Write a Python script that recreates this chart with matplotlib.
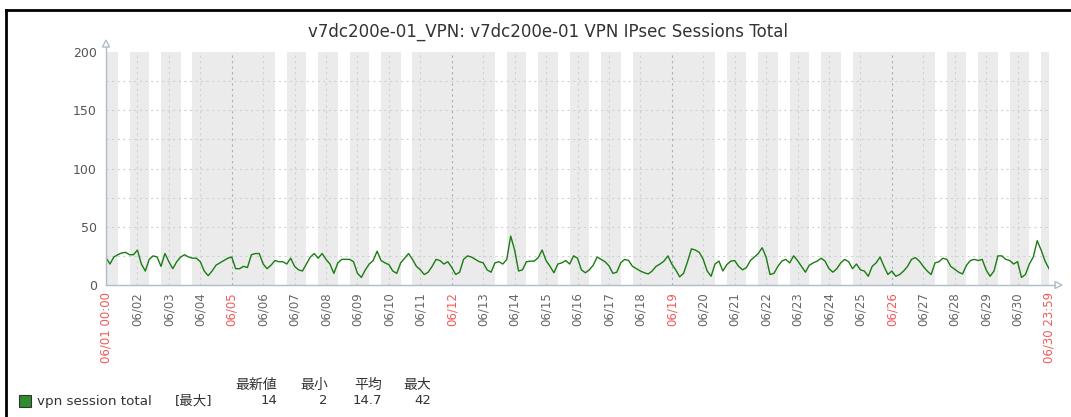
import numpy as np
import matplotlib
matplotlib.use('Agg')
import matplotlib.pyplot as plt
from matplotlib.lines import Line2D
from matplotlib.patches import Polygon, Rectangle

plt.rcParams['font.family'] = ['DejaVu Sans', 'Noto Sans CJK JP']

# --- data (3-hour samples, 06/01 00:00 .. 06/30 24:00) ---
title = 'v7dc200e-01_VPN: v7dc200e-01 VPN IPsec Sessions Total'
series_name = 'vpn session total'
step_hours = 3
sessions = [
    23.5, 18, 24, 26, 27.5, 28, 26, 26,      # 06/01
    30, 18, 12, 22, 25, 24, 16, 27,          # 06/02
    20, 14, 20, 24, 26, 24, 23, 23,          # 06/03
    20, 12, 8, 12, 17, 19, 21, 23,           # 06/04
    24, 14, 14, 16, 15, 26, 27, 27,          # 06/05
    18, 14, 17, 21, 20, 20, 18, 23,          # 06/06
    16, 13, 12, 18, 24, 27, 23, 27,          # 06/07
    22, 18, 10, 19, 22, 22, 22, 20,          # 06/08
    10, 6.5, 13, 18, 21, 29, 21, 19,         # 06/09
    17.5, 12, 10, 19, 23, 27, 22, 16,        # 06/10
    13, 9, 11, 16, 22, 21, 18, 20,           # 06/11
    15, 9, 11, 22, 25, 24, 22, 20,           # 06/12
    19, 13, 11, 19, 20, 18, 22, 42,          # 06/13
    30, 12, 13, 20, 20.5, 20.5, 23.5, 30,    # 06/14
    21, 16, 10.5, 18, 19, 21, 18, 25,        # 06/15
    23, 13, 10.5, 13, 17, 24, 22, 20,        # 06/16
    16.5, 10, 11, 19, 22, 21, 16, 14,        # 06/17
    12, 10.5, 9.5, 12, 16, 18, 20.5, 25,     # 06/18
    18, 13, 7, 10, 20, 31, 30, 28,           # 06/19
    22, 12, 7.5, 18, 20.5, 12, 17.5, 20.5,   # 06/20
    21, 16, 13, 15, 21, 24, 27, 32,          # 06/21
    24, 9, 10, 16, 20.5, 22, 19, 25,         # 06/22
    21, 16, 11, 17, 19, 20.5, 23, 20.5,      # 06/23
    14, 11, 14, 19, 22, 20, 14, 18,          # 06/24
    13, 12, 7.5, 16, 19, 24, 16, 9,          # 06/25
    12, 7.5, 9, 12, 16, 22, 23.5, 20.5,      # 06/26
    16, 12, 9, 19, 20, 23, 22, 16,           # 06/27
    13.5, 11, 9.5, 17, 21, 22, 21, 22,       # 06/28
    13, 7.5, 12, 25, 25, 22, 21, 18,         # 06/29
    20, 6.5, 9, 18, 24, 38, 30, 20.5,        # 06/30
    14,
]
y_tick_values = [0, 50, 100, 150, 200]
y_grid_values = [25, 50, 75, 100, 125, 150, 175]
day_labels = ['06/01 00:00'] + ['06/%02d' % d for d in range(2, 31)] + ['06/30 23:59']
red_labels = ['06/01 00:00', '06/05', '06/12', '06/19', '06/26', '06/30 23:59']
legend_headers = ['最新値', '最小', '平均', '最大']
legend_values = ['14', '2', '14.7', '42']

W, H = 1071, 417
fig = plt.figure(figsize=(W / 100, H / 100), dpi=100)


def fx(x):
    return x / W


def fy(y):
    return 1 - y / H


ax = fig.add_axes([fx(106), fy(285), (1049 - 106) / W, 233 / H])
ax.set_xlim(0, 720)
ax.set_ylim(0, 200)
for s in ax.spines.values():
    s.set_visible(False)

# non-working time shading (working time Mon-Fri 09:00-18:00, 06/01 is a Wednesday)
spans = []
for d in range(30):
    wd = (2 + d) % 7
    if wd >= 5:
        spans.append([24 * d, 24 * d + 24])
    else:
        spans.append([24 * d, 24 * d + 9])
        spans.append([24 * d + 18, 24 * d + 24])
merged = []
for a, b in spans:
    if merged and merged[-1][1] == a:
        merged[-1][1] = b
    else:
        merged.append([a, b])
for a, b in merged:
    ax.axvspan(a, b, color='#ebebeb', lw=0, zorder=0)

# grid
for v in y_grid_values:
    ax.axhline(v, color='#cdd3d8', lw=0.8, ls=(0, (2, 3)), zorder=1)
day_ticks = [24 * d for d in range(30)] + [720]
for x, lab in zip(day_ticks[1:], day_labels[1:]):
    major = lab in red_labels[1:-1]
    ax.axvline(x, color='#9fb1c0' if major else '#cdd3d8', lw=0.8,
               ls=(0, (2, 3)), zorder=1)

hours = np.arange(len(sessions)) * step_hours
ax.plot(hours, sessions, color='#1A7C11', lw=1.0, zorder=3)

ax.set_yticks(y_tick_values)
ax.set_yticklabels([str(v) for v in y_tick_values])
ax.tick_params(axis='y', length=0, pad=6.5, labelsize=9, labelcolor='#555555')
ax.set_xticks(day_ticks)
ax.set_xticklabels(day_labels, rotation=90, ha='center', va='top')
ax.tick_params(axis='x', length=0, pad=5, labelsize=8.5)
for t in ax.get_xticklabels():
    t.set_color('#f05a5a' if t.get_text() in red_labels else '#666666')

# axis lines with open arrows
ac = '#aebdc8'
fig.add_artist(Line2D([fx(106), fx(106)], [fy(285), fy(47)], color=ac, lw=1))
fig.add_artist(Line2D([fx(106), fx(1055)], [fy(285), fy(285)], color=ac, lw=1))
fig.add_artist(Polygon([(fx(106), fy(40)), (fx(102.5), fy(47)), (fx(109.5), fy(47))],
                       closed=True, facecolor='white', edgecolor=ac, lw=1))
fig.add_artist(Polygon([(fx(1062), fy(285)), (fx(1055), fy(281.5)), (fx(1055), fy(288.5))],
                       closed=True, facecolor='white', edgecolor=ac, lw=1))

# title
fig.text(fx(548), fy(32), title, ha='center', va='center', fontsize=12, color='#333333')

# screenshot frame
fig.add_artist(Line2D([fx(6), 1], [fy(10), fy(10)], color='black', lw=2))
fig.add_artist(Line2D([fx(6), fx(6)], [0, fy(10)], color='black', lw=2))

# legend
fig.add_artist(Rectangle((fx(19), fy(407)), 12 / W, 12 / H, facecolor='#2e8b2e',
                         edgecolor='#333333', lw=0.8))
fig.text(fx(37), fy(401), series_name, ha='left', va='center', fontsize=9.7, color='#333333')
fig.text(fx(175), fy(401), '[最大]', ha='left', va='center', fontsize=9.7, color='#333333')
for xr, hdr, val in zip([277, 328, 382, 431], legend_headers, legend_values):
    fig.text(fx(xr), fy(385), hdr, ha='right', va='center', fontsize=10, color='#333333')
    fig.text(fx(xr), fy(401), val, ha='right', va='center', fontsize=9.5, color='#333333')

fig.savefig('out.png', dpi=100)
